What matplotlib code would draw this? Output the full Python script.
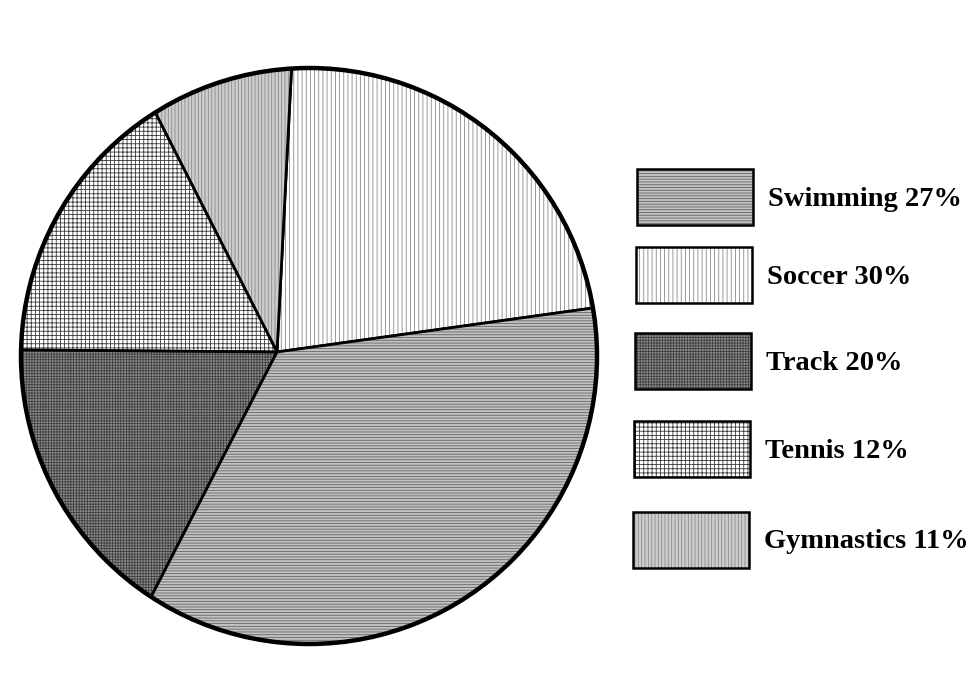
import matplotlib
matplotlib.use("Agg")
import matplotlib.pyplot as plt
import numpy as np
from matplotlib.patches import PathPatch, Rectangle, Circle
from matplotlib.path import Path

# legend entries (as printed on the chart)
legend_labels = ["Swimming 27%", "Soccer 30%", "Track 20%", "Tennis 12%", "Gymnastics 11%"]

# slice sizes as drawn (percent of circle), counter-clockwise from the right
slice_names = ["Soccer", "Gymnastics", "Tennis", "Track", "Swimming"]
slice_values = [23.3, 8.0, 15.7, 16.1, 36.9]

# fill / hatch style per sport
styles = {
    "Swimming": dict(fc="#c2c2c2", hatch="------", hc="#646464"),
    "Soccer": dict(fc="#ffffff", hatch="||||", hc="#8a8a8a"),
    "Track": dict(fc="#8c8c8c", hatch="++++++", hc="#404040"),
    "Tennis": dict(fc="#ffffff", hatch="++++", hc="#3a3a3a"),
    "Gymnastics": dict(fc="#cdcdcd", hatch="|||||", hc="#8a8a8a"),
}

plt.rcParams["hatch.linewidth"] = 0.6
plt.rcParams["font.family"] = ["Liberation Serif", "DejaVu Serif"]

W, H = 968, 684
fig = plt.figure(figsize=(W / 100, H / 100), dpi=100)
fig.patch.set_facecolor("white")

# pie circle: centre (309, 356) px, radius 288 px
R = 288
span = 1.05
cx, cy = 309, H - 356
ax = fig.add_axes([(cx - span * R) / W, (cy - span * R) / H, 2 * span * R / W, 2 * span * R / H])

wedges, _ = ax.pie(slice_values, startangle=9.6, counterclock=True, radius=1.0)
ax.set_xlim(-span, span)
ax.set_ylim(-span, span)
ax.set_aspect("equal")
ax.axis("off")

# the slices meet slightly left of the circle centre in the original drawing
hub = np.array([-32 / R, 4 / R])
for w, name in zip(wedges, slice_names):
    path = w.get_path()
    verts = path.vertices.copy()
    near = np.linalg.norm(verts, axis=1) < 1e-6
    verts[near] = hub
    newpath = Path(verts, path.codes)
    st = styles[name]
    ax.add_patch(PathPatch(newpath, facecolor=st["fc"], edgecolor=st["hc"], hatch=st["hatch"], lw=0))
    ax.add_patch(PathPatch(newpath, facecolor="none", edgecolor="black", lw=2.0, joinstyle="round"))
    w.set_visible(False)

ax.add_patch(Circle((0, 0), 1.0, fill=False, edgecolor="black", lw=3.2))

# legend drawn as boxes with text
box_top = [169, 247, 333, 421, 512]
box_left = [637, 636, 635, 634, 633]
for lbl, top, left in zip(legend_labels, box_top, box_left):
    name = lbl.split()[0]
    st = styles[name]
    bw, bh = 116, 56
    rect = (left / W, (H - top - bh) / H)
    fig.patches.append(Rectangle(rect, bw / W, bh / H, transform=fig.transFigure,
                                 facecolor=st["fc"], edgecolor=st["hc"], hatch=st["hatch"], lw=0))
    fig.patches.append(Rectangle(rect, bw / W, bh / H, transform=fig.transFigure,
                                 facecolor="none", edgecolor="black", lw=1.8))
    fig.text((left + 131) / W, (H - top - bh / 2 - 2) / H, lbl, fontsize=20.5,
             fontweight="bold", va="center", ha="left")

fig.savefig("out.png", dpi=100)
